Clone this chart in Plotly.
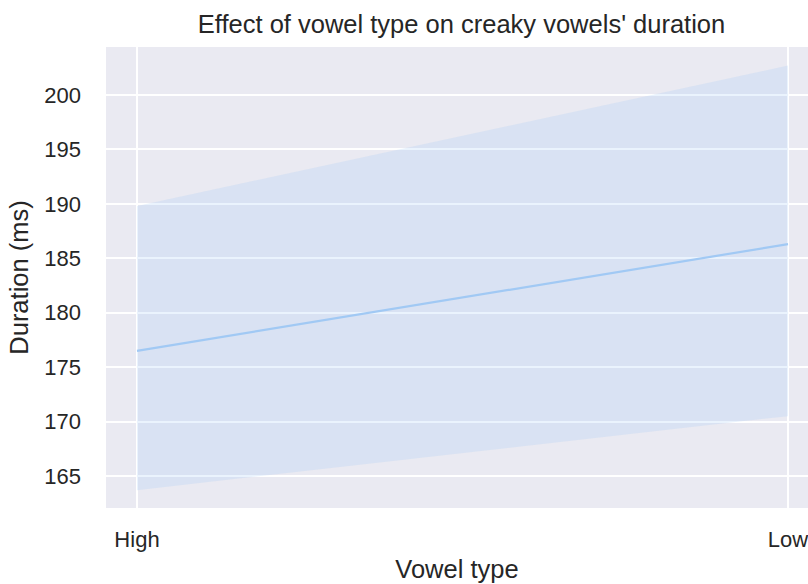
import plotly.graph_objects as go

categories = ["High", "Low"]
mean_duration = [176.5, 186.3]
ci_upper = [189.8, 202.7]
ci_lower = [163.7, 170.5]
y_ticks = [165, 170, 175, 180, 185, 190, 195, 200]

line_color = "#a1c9f4"
band_color = "rgba(161,201,244,0.22)"

fig = go.Figure()
x_idx = list(range(len(categories)))
fig.add_trace(go.Scatter(x=x_idx, y=ci_upper, mode="lines", line=dict(width=0),
                         showlegend=False, hoverinfo="skip"))
fig.add_trace(go.Scatter(x=x_idx, y=ci_lower, mode="lines", line=dict(width=0),
                         fill="tonexty", fillcolor=band_color, showlegend=False, hoverinfo="skip"))
fig.add_trace(go.Scatter(x=x_idx, y=mean_duration, mode="lines",
                         line=dict(color=line_color, width=2.2), showlegend=False))

font = "Liberation Sans, Arial, sans-serif"
fig.update_layout(
    width=808, height=584,
    margin=dict(l=106, r=0, t=47, b=76),
    paper_bgcolor="white", plot_bgcolor="#EAEAF2",
    font=dict(family=font, color="#262626", size=22),
    title=dict(text="Effect of vowel type on creaky vowels' duration",
               x=0.5712, xanchor="center", y=1 - 24 / 584, yanchor="middle",
               font=dict(size=25.5, color="#262626")),
    xaxis=dict(range=[-0.0476, 1.0307], tickmode="array", tickvals=x_idx, ticktext=categories,
               showgrid=True, gridcolor="white", gridwidth=1.5, zeroline=False,
               showline=False, ticks="", ticklabelstandoff=16, ticklabeloverflow="allow",
               title=dict(text="Vowel type", font=dict(size=25.5), standoff=9)),
    yaxis=dict(range=[162.06, 204.41], tickvals=y_ticks,
               showgrid=True, gridcolor="white", gridwidth=1.5, zeroline=False,
               showline=False, ticks="", ticklabelstandoff=24,
               title=dict(text="Duration (ms)", font=dict(size=25.5), standoff=8)),
)
fig.write_html("out.html", config={"displayModeBar": False})

with open("out.html", "r", encoding="utf-8") as f:
    html = f.read()
html = html.replace("<head>", "<head><style>html,body{margin:0;padding:0;overflow:hidden;}</style>", 1)
with open("out.html", "w", encoding="utf-8") as f:
    f.write(html)
